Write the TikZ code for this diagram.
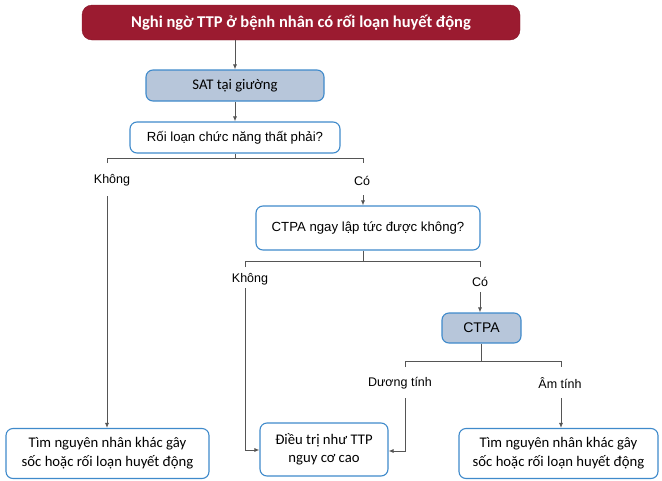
\documentclass[tikz,border=0pt]{standalone}
\usepackage{fontspec}
\setmainfont{Carlito}
\newfontfamily\arialf{Liberation Sans}
\usetikzlibrary{arrows.meta}
\definecolor{topred}{HTML}{9B1B30}
\definecolor{bbord}{HTML}{3F8ACB}
\definecolor{bfill}{HTML}{B7C6DA}
\definecolor{lgray}{HTML}{555555}
\tikzset{
  box/.style={draw=bbord, line width=1.1pt, rounded corners=7pt, fill=white, align=center, inner sep=0pt},
  sbox/.style={box, fill=bfill},
  lbl/.style={font=\arialf\fontsize{12.5}{14}\selectfont, text=black, inner sep=1pt},
  ln/.style={draw=lgray, line width=0.8pt},
  arr/.style={ln, -{Latex[length=5pt,width=4pt]}},
}
\begin{document}
\begin{tikzpicture}[x=1pt,y=-1pt]
\useasboundingbox (0,0) rectangle (662,480);
% boxes
\node[draw=topred!85!black, fill=topred, rounded corners=10pt, minimum width=438pt, minimum height=35pt, inner sep=0pt,
  text=white, font=\bfseries\fontsize{16.5}{18}\selectfont] (top) at (301,22.5) {Nghi ngờ TTP ở bệnh nhân có rối loạn huyết động};
\node[sbox, minimum width=178pt, minimum height=31pt, font=\fontsize{14.7}{16}\selectfont] (sat) at (235,85.5) {SAT tại giường};
\node[box, minimum width=210pt, minimum height=31pt, font=\arialf\fontsize{13.2}{15}\selectfont] (rl) at (235,137.5) {Rối loạn chức năng thất phải?};
\node[box, minimum width=224pt, minimum height=44pt, font=\arialf\fontsize{13.2}{15}\selectfont] (cq) at (368,228) {CTPA ngay lập tức được không?};
\node[sbox, minimum width=79pt, minimum height=30pt, font=\arialf\fontsize{14}{16}\selectfont] (ctpa) at (481.5,328) {CTPA};
\node[box, minimum width=128pt, minimum height=53pt, font=\fontsize{14.7}{18}\selectfont] (dt) at (324,449.5) {Điều trị như TTP\\nguy cơ cao};
\node[box, minimum width=203pt, minimum height=50pt, font=\fontsize{14.7}{19}\selectfont] (tl) at (107.5,453.5) {Tìm nguyên nhân khác gây\\sốc hoặc rối loạn huyết động};
\node[box, minimum width=199pt, minimum height=50pt, font=\fontsize{14.7}{19}\selectfont] (tr) at (558.5,453.5) {Tìm nguyên nhân khác gây\\sốc hoặc rối loạn huyết động};
% labels
\node[lbl] (k1) at (112,180) {Không};
\node[lbl] (c1) at (362,181) {Có};
\node[lbl] (k2) at (250,279) {Không};
\node[lbl] (c2) at (480,282) {Có};
\node[lbl] (dg) at (400,383) {Dương tính};
\node[lbl] (am) at (560,383) {Âm tính};
% coordinates
\coordinate (b1) at (235,158);
\coordinate (b1l) at (107,158);
\coordinate (b1r) at (363,158);
\coordinate (b2) at (363,261);
\coordinate (b2l) at (245,261);
\coordinate (b2r) at (480,261);
\coordinate (b3) at (481.5,361);
\coordinate (b3l) at (405,361);
\coordinate (b3r) at (561,361);
% connectors
\draw[arr] (top.south -| sat) -- (sat.north);
\draw[arr] (sat.south) -- (rl.north);
\draw[ln] (rl.south) -- (b1);
\draw[ln] (107,163) -- (b1l) -- (b1r) -- (363,163);
\draw[arr] (107,196) -- (tl.north -| 107,0);
\draw[arr] (363,195) -- (cq.north -| 363,0);
\draw[ln] (cq.south -| b2) -- (b2);
\draw[ln] (245,267) -- (b2l) -- (b2r) -- (480,267);
\draw[arr] (245,288) -- (245,450) -- (dt.west |- 0,450);
\draw[arr] (480,292) -- (ctpa.north -| 480,0);
\draw[ln] (ctpa.south) -- (b3);
\draw[ln] (405,367) -- (b3l) -- (b3r) -- (561,367);
\draw[arr] (405,398) -- (405,451) -- (dt.east |- 0,451);
\draw[arr] (561,398) -- (tr.north -| 561,0);
\end{tikzpicture}
\end{document}
